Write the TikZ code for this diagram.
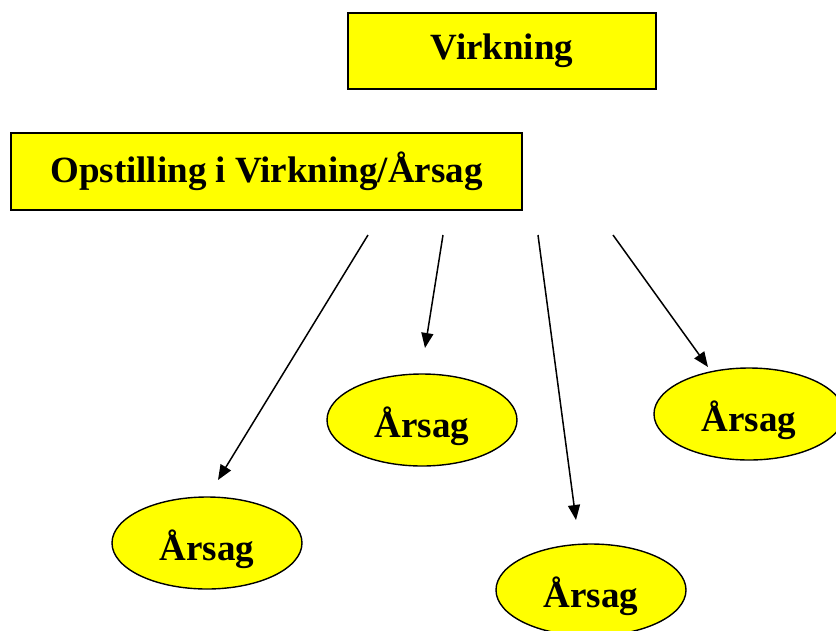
\documentclass[tikz,border=0pt]{standalone}
\usepackage{fontspec}
\setmainfont{Liberation Serif}
\usepackage{tikz}
\usetikzlibrary{shapes.geometric, arrows.meta}
\definecolor{boxyellow}{HTML}{FFFF00}

\begin{document}
\begin{tikzpicture}[x=1pt, y=-1pt, >={Triangle[length=15pt,width=12pt]},
    every node/.style={font=\fontsize{37}{40}\selectfont\bfseries, inner sep=0pt},
    effectbox/.style={draw=black, fill=boxyellow, line width=2pt, rectangle},
    cause/.style={draw=black, fill=boxyellow, line width=1.4pt, ellipse, minimum width=190pt, minimum height=92pt, text height=42pt, text depth=8pt}]

                      \useasboundingbox (0,0) rectangle (836,630);

                      \node[effectbox, minimum width=308pt, minimum height=76pt] (virkning) at (502,51) {Virkning};
                      \node[effectbox, minimum width=511pt, minimum height=77pt] (opstilling) at (266.5,171.5) {Opstilling i Virkning/Årsag};

                      \foreach \N/\X/\Y in {aarsag1/207/543, aarsag2/422/420, aarsag3/591/590, aarsag4/749/414}{
                            \node[cause] (\N) at (\X,\Y) {Årsag};
                      }

                      \foreach \N/\SX/\EX/\EY in {1/368/218/480, 2/443/425/348, 3/538/576/520, 4/613/708/367}{
                            \coordinate (start\N) at (\SX,235);
                            \coordinate (end\N) at (\EX,\EY);
                            \draw[->, line width=1.5pt] (start\N) -- (end\N);
                      }

                    \end{tikzpicture}
\end{document}
